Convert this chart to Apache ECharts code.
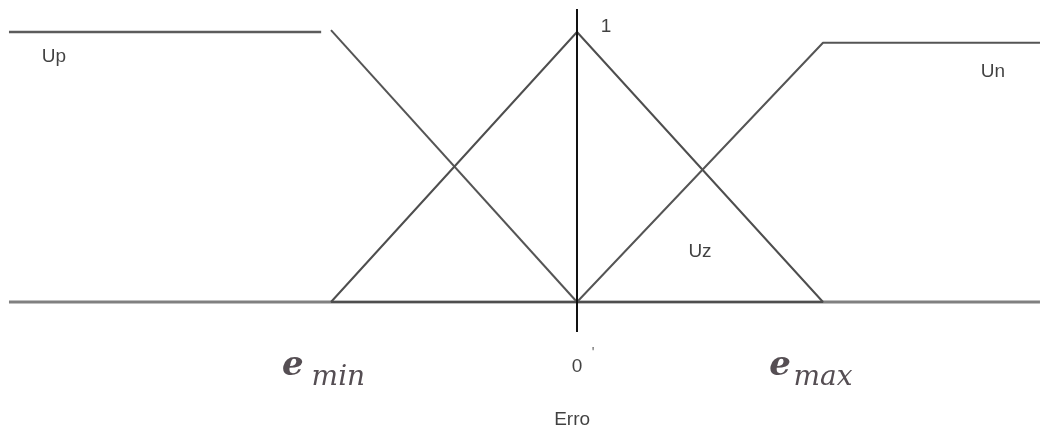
<!DOCTYPE html>
<html>
<head>
<meta charset="utf-8">
<script src="https://cdn.jsdelivr.net/npm/echarts@6/dist/echarts.min.js"></script>
<style>html,body{margin:0;padding:0;background:#fff}#c{width:1040px;height:432px}</style>
</head>
<body>
<div id="c"></div>
<script>
// ---- data (error axis e, membership degree u) ----
const baseline = [[-2.309, 0], [1.882, 0]];
const upFlat = [[-2.309, 1.0], [-1.04, 1.0]];
const upSlope = [[-1.0, 1.007], [0, 0]];
const uzTriangle = [[-1.0, 0], [0, 1.0], [1.0, 0], [-1.0, 0]];
const unCurve = [[0, 0], [1.0, 0.96], [1.882, 0.96]];
const verticalAxis = [[0, -0.111], [0, 1.085]];

const termTexts = ['Up', 'Un', 'Uz', '1', '0', 'Erro'];
const termX = [-2.126, 1.691, 0.5, 0.118, 0, -0.02];
const termY = [0.907, 0.852, 0.185, 1.018, -0.241, -0.437];

const primeText = ["'"];
const primeX = [0.065];
const primeY = [-0.19];

const mathBase = ['e', 'e'];
const mathBaseX = [-1.155, 0.825];
const mathBaseY = [-0.237, -0.237];
const mathSub = ['min', 'max'];
const mathSubX = [-0.97, 1.0];
const mathSubY = [-0.28, -0.28];

// ---- chart ----
const zipPts = (t, xs, ys) => t.map((s, i) => ({ value: [xs[i], ys[i]], name: s }));

function lineSeries(data, color, width, z) {
  return {
    type: 'line', data: data, symbol: 'none', silent: true, z: z || 2,
    lineStyle: { color: color, width: width }, animation: false, clip: false
  };
}
function textSeries(data, labelStyle) {
  return {
    type: 'scatter', data: data, symbolSize: 0, silent: true, z: 5, clip: false,
    label: Object.assign({ show: true, position: 'inside', formatter: p => p.name }, labelStyle),
    animation: false
  };
}

const chart = echarts.init(document.getElementById('c'), null, { renderer: 'canvas' });
chart.setOption({
  backgroundColor: '#ffffff',
  animation: false,
  grid: { left: 0, right: 0, top: 0, bottom: 0 },
  xAxis: { type: 'value', min: -2.3455, max: 1.8821, show: false },
  yAxis: { type: 'value', min: -0.4815, max: 1.1185, show: false },
  series: [
    lineSeries(baseline, '#808080', 3, 1),
    lineSeries(upFlat, '#5c5c5c', 2.5),
    lineSeries(upSlope, '#555555', 2),
    lineSeries(uzTriangle, '#4e4e4e', 2),
    lineSeries(unCurve, '#555555', 2),
    lineSeries(verticalAxis, '#111111', 2, 4),
    textSeries(zipPts(termTexts, termX, termY), {
      fontFamily: 'Liberation Sans', fontSize: 19, color: '#111111'
    }),
    textSeries(zipPts(primeText, primeX, primeY), {
      fontFamily: 'Liberation Sans', fontSize: 14, color: '#333'
    }),
    textSeries(zipPts(mathBase, mathBaseX, mathBaseY), {
      fontFamily: 'DejaVu Serif', fontStyle: 'italic', fontWeight: 'bold', fontSize: 34, color: '#2a2228'
    }),
    textSeries(zipPts(mathSub, mathSubX, mathSubY), {
      fontFamily: 'DejaVu Serif', fontStyle: 'italic', fontSize: 28, color: '#2a2228'
    })
  ]
});
</script>
</body>
</html>
